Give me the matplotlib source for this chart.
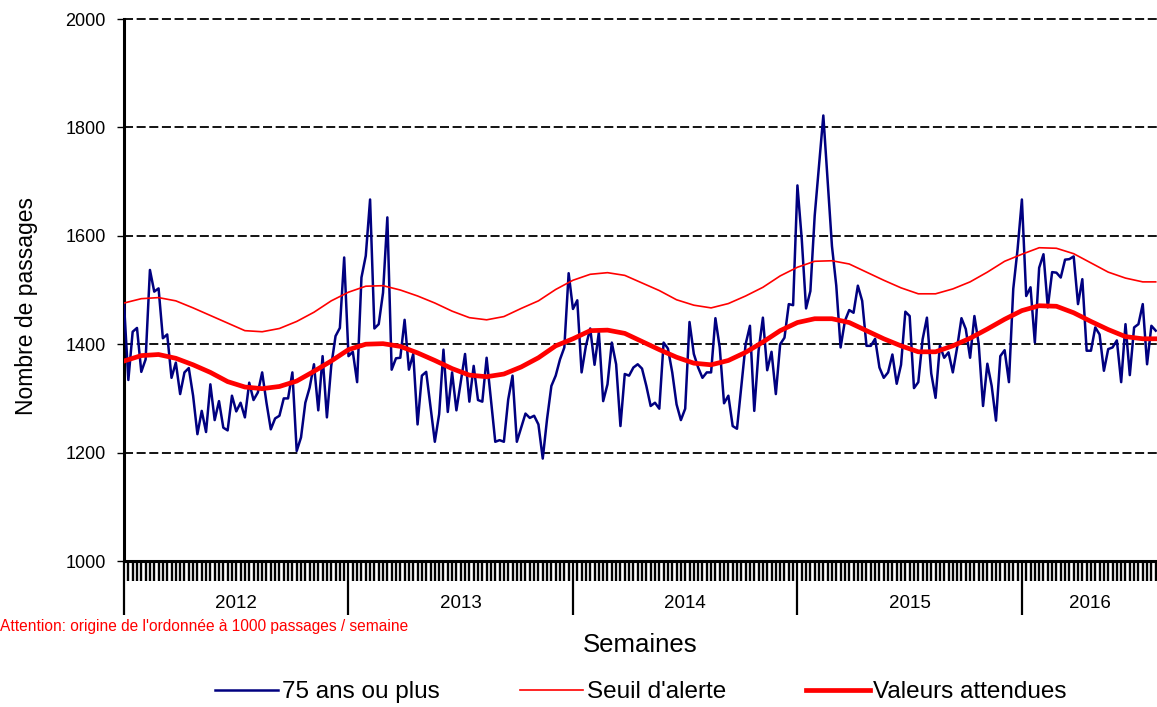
import numpy as np
import matplotlib
matplotlib.use("Agg")
import matplotlib.pyplot as plt

plt.rcParams['font.family'] = ['Liberation Sans', 'DejaVu Sans']

# weekly counts, 75 years and older
y2012 = [1474, 1334, 1423, 1430, 1349, 1372, 1537, 1497, 1503, 1411, 1418, 1338, 1366,
         1308, 1348, 1356, 1305, 1234, 1277, 1238, 1326, 1260, 1295, 1246, 1241, 1305,
         1276, 1292, 1265, 1329, 1297, 1311, 1348, 1292, 1243, 1263, 1268, 1300, 1300,
         1348, 1203, 1228, 1292, 1320, 1363, 1278, 1378, 1265, 1360, 1415, 1430, 1560]
y2013 = [1378, 1386, 1330, 1523, 1563, 1667, 1429, 1437, 1495, 1634, 1353, 1374, 1375,
         1445, 1353, 1382, 1252, 1342, 1349, 1284, 1220, 1271, 1390, 1275, 1348, 1278,
         1330, 1382, 1294, 1360, 1297, 1294, 1375, 1297, 1220, 1223, 1220, 1298, 1342,
         1220, 1246, 1272, 1264, 1268, 1252, 1189, 1262, 1323, 1342, 1372, 1394, 1531]
y2014 = [1465, 1481, 1348, 1397, 1429, 1362, 1422, 1295, 1326, 1403, 1363, 1249, 1345,
         1342, 1357, 1363, 1355, 1323, 1286, 1292, 1281, 1403, 1392, 1348, 1289, 1260,
         1281, 1441, 1382, 1357, 1338, 1348, 1348, 1448, 1394, 1291, 1305, 1249, 1244,
         1323, 1400, 1434, 1277, 1388, 1449, 1352, 1386, 1308, 1400, 1412, 1474, 1472]
y2015 = [1693, 1594, 1466, 1498, 1637, 1729, 1822, 1700, 1581, 1508, 1394, 1443, 1463,
         1458, 1508, 1480, 1397, 1397, 1410, 1357, 1338, 1348, 1381, 1327, 1362, 1460,
         1452, 1319, 1330, 1409, 1449, 1346, 1301, 1397, 1375, 1385, 1348, 1394, 1448,
         1428, 1375, 1452, 1400, 1286, 1364, 1323, 1259, 1378, 1389, 1330, 1502, 1575]
y2016 = [1667, 1489, 1505, 1403, 1541, 1566, 1468, 1533, 1532, 1523, 1556, 1557, 1562,
         1474, 1520, 1388, 1388, 1431, 1418, 1351, 1391, 1394, 1407, 1330, 1437, 1343,
         1431, 1437, 1474, 1363, 1434, 1425]

# alert threshold and expected values, read every 4 weeks
ref_weeks = [0, 4, 8, 12, 16, 20, 24, 28, 32, 36, 40, 44, 48, 52, 56, 60, 64, 68, 72, 76,
             80, 84, 88, 92, 96, 100, 104, 108, 112, 116, 120, 124, 128, 132, 136, 140,
             144, 148, 152, 156, 160, 164, 168, 172, 176, 180, 184, 188, 192, 196, 200,
             204, 208, 212, 216, 220, 224, 228, 232, 236, 239]
seuil = [1476, 1484, 1486, 1480, 1467, 1453, 1439, 1425, 1423, 1429, 1442, 1459, 1480,
         1496, 1507, 1508, 1500, 1489, 1476, 1461, 1449, 1445, 1451, 1466, 1480, 1501,
         1518, 1529, 1532, 1527, 1513, 1499, 1482, 1472, 1467, 1475, 1489, 1505, 1526,
         1542, 1553, 1554, 1548, 1533, 1518, 1504, 1493, 1493, 1502, 1515, 1533, 1553,
         1566, 1578, 1577, 1567, 1550, 1533, 1522, 1515, 1515]
attendus = [1369, 1379, 1381, 1374, 1362, 1348, 1331, 1321, 1318, 1322, 1332, 1350, 1369,
            1390, 1400, 1401, 1396, 1384, 1370, 1355, 1343, 1340, 1345, 1358, 1375, 1397,
            1410, 1425, 1426, 1420, 1405, 1390, 1376, 1365, 1362, 1370, 1385, 1404, 1425,
            1440, 1447, 1447, 1440, 1425, 1410, 1397, 1386, 1386, 1397, 1411, 1428, 1446,
            1462, 1471, 1470, 1458, 1442, 1427, 1414, 1410, 1410]

years = ['2012', '2013', '2014', '2015', '2016']
year_starts = [0, 52, 104, 156, 208]

values = y2012 + y2013 + y2014 + y2015 + y2016
weeks = np.arange(len(values))
x_end = 239.3

fig = plt.figure(figsize=(11.57, 7.07), dpi=100)
ax = fig.add_axes([0.1072, 0.2065, 0.8928, 0.7666])

ax.plot(weeks, values, color='#000080', lw=1.8, label='75 ans ou plus', zorder=3)
ax.plot(ref_weeks, seuil, color='#FF0000', lw=1.2, label="Seuil d'alerte", zorder=4)
ax.plot(ref_weeks, attendus, color='#FF0000', lw=3.4, label='Valeurs attendues', zorder=5)

ax.set_ylim(1000, 2000)
ax.set_xlim(0, x_end)
ax.set_yticks(np.arange(1000, 2001, 200))
ax.tick_params(axis='y', length=5, width=1, labelsize=13, pad=8)
for val in range(1200, 2001, 200):
    ax.axhline(val, color='black', lw=1.3, linestyle=(0, (5, 2)), zorder=1, clip_on=False)

for side in ['top', 'right']:
    ax.spines[side].set_visible(False)
ax.spines['left'].set_linewidth(2.2)
ax.spines['bottom'].set_linewidth(2.2)

# week ticks and year separators
ax.set_xticks(year_starts)
ax.set_xticklabels([])
ax.set_xticks(np.arange(0, 240), minor=True)
ax.tick_params(axis='x', which='major', length=39, width=1.6)
ax.tick_params(axis='x', which='minor', length=14.5, width=1.7)

centers = [26, 78, 130, 182, (208 + x_end) / 2]
for c, yr in zip(centers, years):
    ax.text(c, -0.078, yr, transform=ax.get_xaxis_transform(), ha='center', va='center',
            fontsize=13.5)

ax.set_ylabel('Nombre de passages', fontsize=16.5)
ax.yaxis.set_label_coords(-0.083, 0.47)
fig.text(0.553, 0.088, 'Semaines', ha='center', va='center', fontsize=18.5)
fig.text(0.0, 0.114, "Attention: origine de l'ordonnée à 1000 passages / semaine",
         ha='left', va='center', fontsize=11.2, color='red')

fig.legend(loc='center', bbox_to_anchor=(0.554, 0.021), ncol=3, frameon=False,
           fontsize=17.5, handlelength=2.6, columnspacing=3.3, handletextpad=0.15,
           borderpad=0.05)

plt.savefig('out.png', dpi=100)
